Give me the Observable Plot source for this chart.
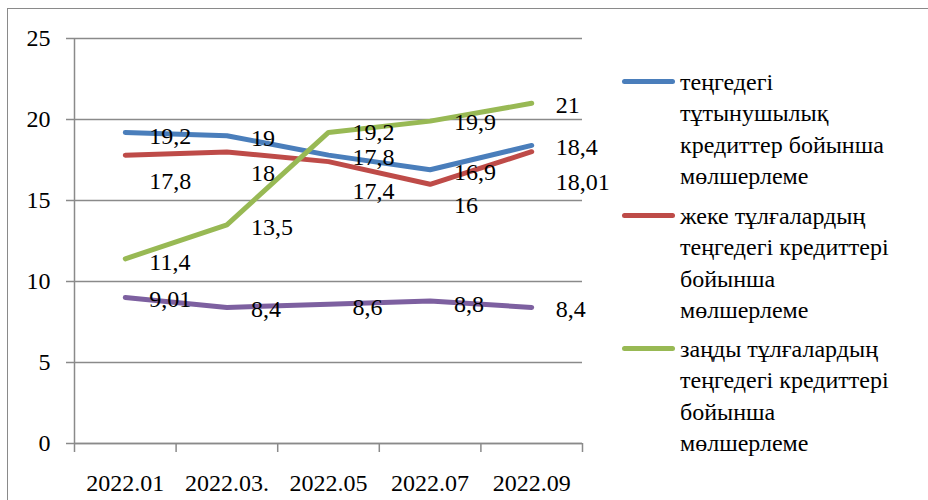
<!DOCTYPE html>
<html>
<head>
<meta charset="utf-8">
<script src="https://cdn.jsdelivr.net/npm/d3@7"></script>
<script src="https://cdn.jsdelivr.net/npm/@observablehq/plot@0.6"></script>
<style>
  html, body { margin: 0; padding: 0; background: #fff; }
  #wrap { position: relative; width: 928px; height: 500px; overflow: hidden; font-family: 'Times New Roman', 'Liberation Serif', serif; }
  #frame { position: absolute; left: 7px; top: 8px; width: 940px; height: 520px; border-left: 1.5px solid #8a8a8a; border-top: 1.5px solid #8a8a8a; }
  #chart { position: absolute; left: 0; top: 0; }
  #legend { position: absolute; left: 622px; top: 0; }
  .item { position: absolute; left: 0; width: 300px; }
  .sw { position: absolute; left: 0; width: 53px; height: 5px; border-radius: 3px; }
  .lbl { position: absolute; left: 58px; font-size: 24px; line-height: 31.3px; color: #000; white-space: nowrap; }
</style>
</head>
<body>
<div id="wrap">
  <div id="frame"></div>
  <div id="chart"></div>
  <div id="legend"></div>
</div>
<script>
// ---- data ----
const months = ["2022.01", "2022.03.", "2022.05", "2022.07", "2022.09"];
const consumerRate = [19.2, 19, 17.8, 16.9, 18.4];
const individualsRate = [17.8, 18, 17.4, 16, 18.01];
const legalRate = [11.4, 13.5, 19.2, 19.9, 21];
const fourthRate = [9.01, 8.4, 8.6, 8.8, 8.4];
const seriesNames = [
  "теңгедегі тұтынушылық кредиттер бойынша мөлшерлеме",
  "жеке тұлғалардың теңгедегі кредиттері бойынша мөлшерлеме",
  "заңды тұлғалардың теңгедегі кредиттері бойынша мөлшерлеме",
  "series4"
];
const legendLines = [
  ["теңгедегі", "тұтынушылық", "кредиттер бойынша", "мөлшерлеме"],
  ["жеке тұлғалардың", "теңгедегі кредиттері", "бойынша", "мөлшерлеме"],
  ["заңды тұлғалардың", "теңгедегі кредиттері", "бойынша", "мөлшерлеме"]
];
const yTicks = [0, 5, 10, 15, 20, 25];

// ---- styles ----
const FONT = "'Times New Roman', 'Liberation Serif', serif";
const colors = ["#4A7EBB", "#BE4B48", "#98B954", "#7D60A0"];
const labelDy = [
  [4, 3, 2, 3, 2],
  [26, 21, 30, 21, 31],
  [3, 3, 0, 1, 2],
  [2, 2, 3, 3, 2]
];

const allSeries = [consumerRate, individualsRate, legalRate, fourthRate];
const rows = [];
allSeries.forEach((vals, s) => {
  vals.forEach((v, i) => {
    rows.push({series: seriesNames[s], s, idx: i + 1, month: months[i], value: v});
  });
});

const fmt = v => String(v).replace(".", ",");
const gridColor = "#8a8a8a";

const marks = [
  Plot.gridY(yTicks, {stroke: gridColor, strokeOpacity: 1, strokeWidth: 1.5}),
  Plot.axisY(yTicks, {tickSize: 8, tickPadding: 16, stroke: gridColor, strokeWidth: 1.5, label: null, tickFormat: d => String(d)}),
  Plot.ruleX([0.5], {y1: 0, y2: 25, stroke: gridColor, strokeWidth: 1.5}),
  Plot.ruleY([0], {stroke: gridColor, strokeWidth: 1.5}),
  Plot.axisX(d3.range(0.5, 6, 1), {tickSize: 9, stroke: gridColor, strokeWidth: 1.5, tickFormat: () => "", label: null}),
  Plot.axisX(d3.range(1, 6), {tickSize: 0, tickPadding: 30, tickFormat: i => months[i - 1], label: null})
];
allSeries.forEach((vals, s) => {
  const data = rows.filter(r => r.s === s);
  marks.push(Plot.line(data, {x: "idx", y: "value", stroke: colors[s], strokeWidth: 5, strokeLinecap: "round", strokeLinejoin: "round"}));
});
allSeries.forEach((vals, s) => {
  const data = rows.filter(r => r.s === s);
  marks.push(Plot.text(data, {x: "idx", y: "value", text: d => fmt(d.value), dx: 24, textAnchor: "start", fill: "#000", fontSize: 24}));
});

const chart = Plot.plot({
  width: 600,
  height: 500,
  marginLeft: 74,
  marginRight: 18,
  marginTop: 38,
  marginBottom: 57,
  style: {fontFamily: FONT, fontSize: "24px", color: "#000", background: "transparent", overflow: "visible"},
  x: {type: "linear", domain: [0.5, 5.5]},
  y: {domain: [0, 25]},
  marks
});
document.getElementById("chart").appendChild(chart);
chart.querySelectorAll("text").forEach(t => t.setAttribute("font-family", FONT));

// per-label vertical offsets (Plot's dy is constant per mark)
const textGroups = Array.from(chart.querySelectorAll("g[aria-label='text']"));
textGroups.forEach((g, s) => {
  Array.from(g.querySelectorAll("text")).forEach((t, i) => {
    t.setAttribute("transform", (t.getAttribute("transform") || "") + ` translate(0,${labelDy[s][i]})`);
  });
});

// legend
const legend = document.getElementById("legend");
const itemTops = [67, 201, 334];
legendLines.forEach((lines, k) => {
  const item = document.createElement("div");
  item.className = "item";
  item.style.top = itemTops[k] + "px";
  const sw = document.createElement("div");
  sw.className = "sw";
  sw.style.background = colors[k];
  sw.style.top = "12px";
  item.appendChild(sw);
  const lbl = document.createElement("div");
  lbl.className = "lbl";
  lbl.innerHTML = lines.join("<br>");
  item.appendChild(lbl);
  legend.appendChild(item);
});
</script>
<style>
  #wrap, #wrap * { font-family: 'Times New Roman', 'Liberation Serif', serif !important; }
</style>
</body>
</html>
